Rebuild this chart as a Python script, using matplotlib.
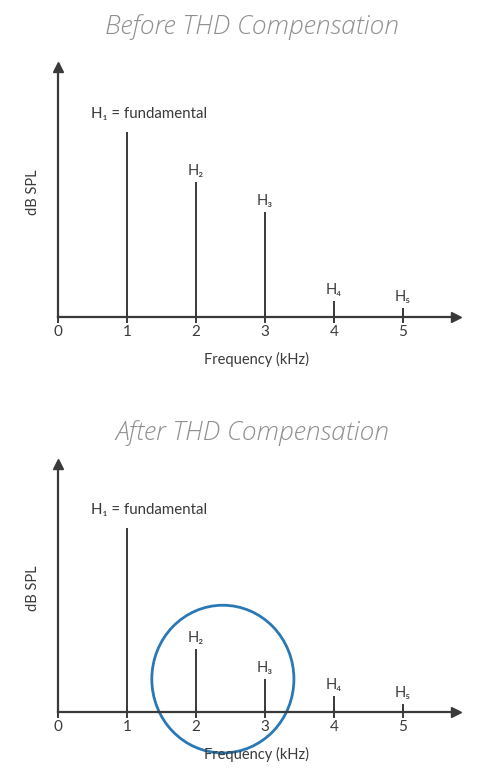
import numpy as np
from matplotlib import pyplot as plt
from matplotlib.patches import Ellipse

# harmonic frequencies (kHz) and levels (arbitrary dB SPL units)
freqs = [1, 2, 3, 4, 5]
names = ['H\u2081 = fundamental', 'H\u2082', 'H\u2083', 'H\u2084', 'H\u2085']
level_before = [74, 54, 42, 6.4, 3.6]
level_after = [73.6, 25.2, 13.2, 6.4, 3.2]
ticks = [0, 1, 2, 3, 4, 5]

FONT = ['Lato', 'DejaVu Sans']
INK = '#3a3a3a'

fig = plt.figure(figsize=(5, 7.78), dpi=100)
ax1 = fig.add_axes([0.116, 0.5925, 0.796, 0.3220])
ax2 = fig.add_axes([0.116, 0.0848, 0.796, 0.3194])


def draw(ax, levels, title, ty, ymax):
    ax.set_xlim(0, 5.77)
    ax.set_ylim(0, ymax)
    for s in ['top', 'right']:
        ax.spines[s].set_visible(False)
    for s in ['left', 'bottom']:
        ax.spines[s].set_color(INK)
        ax.spines[s].set_linewidth(1.6)
    # arrow heads
    ax.plot(1, 0, '>', color=INK, ms=7, transform=ax.get_yaxis_transform(), clip_on=False)
    ax.plot(0, 1, '^', color=INK, ms=7, transform=ax.get_xaxis_transform(), clip_on=False)

    ax.vlines(freqs, 0, levels, color=INK, lw=1.4)
    for i, (f, v) in enumerate(zip(freqs, levels)):
        if i == 0:
            ax.annotate(names[i], (f, v), xytext=(-26, 8), textcoords='offset points',
                        ha='left', va='bottom', fontsize=10.8, color=INK, family=FONT)
        else:
            ax.annotate(names[i], (f, v), xytext=(0, 3), textcoords='offset points',
                        ha='center', va='bottom', fontsize=10.5, color=INK, family=FONT)

    ax.set_xticks(ticks)
    ax.set_xticklabels([str(t) for t in ticks], family=FONT, fontsize=11, color=INK)
    ax.tick_params(axis='x', direction='inout', length=9, width=1.4, color=INK, pad=1.5)
    ax.set_yticks([])
    ax.set_xlabel('Frequency (kHz)', family=FONT, fontsize=10.5, color=INK, labelpad=9)
    ax.set_ylabel('dB SPL', family=FONT, fontsize=10.5, color=INK)
    ax.yaxis.set_label_coords(-0.045, 0.5)
    fig.text(0.504, ty, title, family='Open Sans', style='italic', fontweight='light',
             fontsize=19, color='#8f8f8f', ha='center', va='center')


draw(ax1, level_before, 'Before THD Compensation', 1 - 27 / 778, 100.4)
draw(ax2, level_after, 'After THD Compensation', 1 - 433 / 778, 99.6)

# highlight the reduced harmonics
ax2.add_patch(Ellipse((2.39, 13.2), 2.06, 59.2, fill=False, ec='#2a78b4', lw=2,
                      clip_on=False))

fig.savefig('out.png', dpi=100)
